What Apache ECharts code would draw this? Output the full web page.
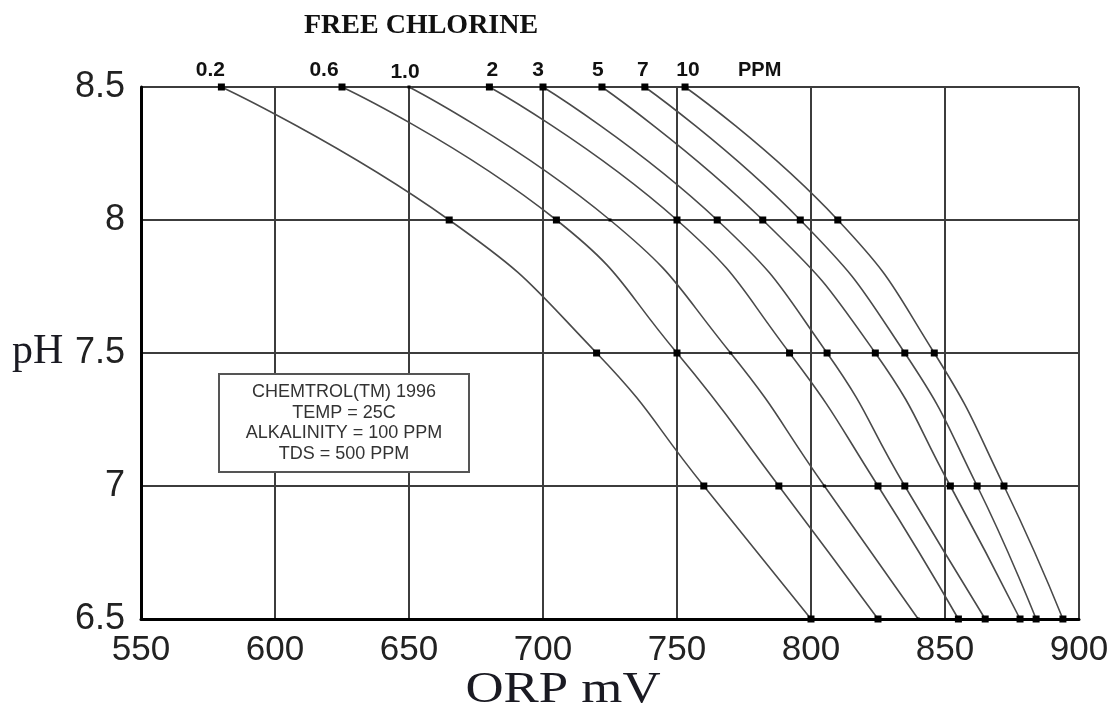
<!DOCTYPE html>
<html>
<head>
<meta charset="utf-8">
<script src="https://cdn.jsdelivr.net/npm/echarts@6/dist/echarts.min.js"></script>
<style>
  html, body { margin: 0; padding: 0; background: #fff; }
  #chart { width: 1114px; height: 715px; }
</style>
</head>
<body>
<div id="chart"></div>
<script>
// pH rows at which each free-chlorine curve is tabulated (top to bottom)
const phLevels = [8.5, 8, 7.5, 7, 6.5];

// ORP (mV) of each free-chlorine level at the pH rows above
const orpPpm0_2 = [580, 665, 720, 760, 800];
const orpPpm0_6 = [625, 705, 750, 788, 825];
const orpPpm1_0 = [650, 725, 770, 805, 840];
const orpPpm2   = [680, 750, 792, 825, 855];
const orpPpm3   = [700, 765, 806, 835, 865];
const orpPpm5   = [722, 782, 824, 852, 878];
const orpPpm7   = [738, 796, 835, 862, 884];
const orpPpm10  = [753, 810, 846, 872, 894];

const ppmNames = ['0.2', '0.6', '1.0', '2', '3', '5', '7', '10'];
const orpCurves = [orpPpm0_2, orpPpm0_6, orpPpm1_0, orpPpm2, orpPpm3, orpPpm5, orpPpm7, orpPpm10];

const xTicks = [550, 600, 650, 700, 750, 800, 850, 900];
const yTicks = [6.5, 7, 7.5, 8, 8.5];

const infoLines = ['CHEMTROL(TM) 1996', 'TEMP = 25C', 'ALKALINITY = 100 PPM', 'TDS = 500 PPM'];

// small horizontal nudges for the ppm captions above the top markers
const captionShift = [-11, -18, -4, 3, -5, -4, -2, 3];

const chart = echarts.init(document.getElementById('chart'));

const series = orpCurves.map((orp, i) => ({
  name: ppmNames[i],
  type: 'line',
  smooth: 0.5,
  data: orp.map((v, k) => [v, phLevels[k]]),
  symbol: 'rect',
  symbolSize: ppmNames[i] === '1.0' ? 3 : 7,
  lineStyle: { color: '#4a4a4a', width: 1.6 },
  itemStyle: { color: '#000' },
  z: 3,
  label: {
    show: true,
    position: 'top',
    distance: 3,
    offset: [captionShift[i], 0],
    formatter: p => (p.dataIndex === 0 ? p.seriesName : ''),
    fontFamily: 'Liberation Sans',
    fontWeight: 'bold',
    fontSize: 21,
    color: '#111'
  },
  emphasis: { disabled: true },
  animation: false
}));

const option = {
  backgroundColor: '#fff',
  animation: false,
  grid: { left: 141, right: 35, top: 87, bottom: 96, containLabel: false },
  title: {
    text: 'FREE CHLORINE',
    left: 299,
    top: 7,
    textStyle: { fontFamily: 'Liberation Serif', fontWeight: 'bold', fontSize: 28, color: '#111' }
  },
  xAxis: {
    type: 'value',
    min: xTicks[0],
    max: xTicks[xTicks.length - 1],
    interval: 50,
    axisLine: { show: true, onZero: false, lineStyle: { color: '#000', width: 3 } },
    axisTick: { show: false },
    axisLabel: {
      margin: 14,
      fontFamily: 'Liberation Sans',
      fontSize: 35,
      color: '#222'
    },
    splitLine: { show: true, lineStyle: { color: '#3c3c3c', width: 2 } }
  },
  yAxis: {
    type: 'value',
    min: yTicks[0],
    max: yTicks[yTicks.length - 1],
    interval: 0.5,
    axisLine: { show: true, onZero: false, lineStyle: { color: '#000', width: 3 } },
    axisTick: { show: false },
    axisLabel: {
      margin: 16,
      fontFamily: 'Liberation Sans',
      fontSize: 36,
      color: '#222'
    },
    splitLine: { show: true, lineStyle: { color: '#3c3c3c', width: 2 } }
  },
  graphic: [
    {
      type: 'text',
      left: 738,
      top: 60,
      style: { text: 'PPM', fontFamily: 'Liberation Sans', fontWeight: 'bold', fontSize: 20, fill: '#111' }
    },
    {
      type: 'text',
      x: 12,
      y: 352,
      style: {
        text: 'pH', fontFamily: 'Liberation Serif', fontSize: 42, fill: '#1a1a22',
        verticalAlign: 'middle', textAlign: 'left'
      }
    },
    {
      type: 'text',
      x: 563,
      y: 690,
      scaleX: 1.2,
      style: {
        text: 'ORP mV', fontFamily: 'Liberation Serif', fontSize: 44, fill: '#1a1a22',
        verticalAlign: 'middle', textAlign: 'center'
      }
    },
    {
      type: 'rect',
      shape: { x: 219, y: 374, width: 250, height: 98 },
      style: { fill: '#fff', stroke: '#555', lineWidth: 2 },
      z: 10
    },
    {
      type: 'text',
      x: 344,
      y: 423,
      z: 11,
      style: {
        text: infoLines.join('\n'),
        fontFamily: 'Liberation Sans',
        fontSize: 18,
        lineHeight: 20.5,
        fill: '#333',
        textAlign: 'center',
        verticalAlign: 'middle'
      }
    }
  ],
  series: series
};

chart.setOption(option);
</script>
</body>
</html>
